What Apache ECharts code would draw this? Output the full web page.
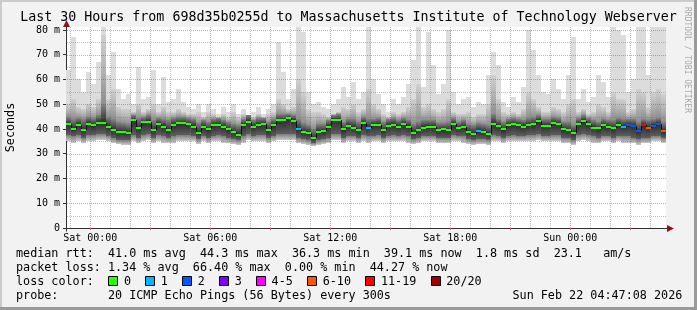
<!DOCTYPE html>
<html><head><meta charset="utf-8">
<script src="https://cdn.jsdelivr.net/npm/echarts@6/dist/echarts.min.js"></script>
<style>html,body{margin:0;padding:0;background:#f2f2f2}#c{width:697px;height:310px}</style>
</head><body><div id="c"></div>
<script>
// ---- time domain (hours relative to Sat 00:00) ----
const startHour = -1.214, endHour = 28.786, stepHours = 0.25;
const xTickValues = [0, 6, 12, 18, 24];
const xTickLabels = ['Sat 00:00', 'Sat 06:00', 'Sat 12:00', 'Sat 18:00', 'Sun 00:00'];
const yTickValues = [0, 10, 20, 30, 40, 50, 60, 70, 80];
const yMax = 81.2;

// ---- smoke: highest ping (light), mid band top, dark band top/bottom, lowest ping (ms) ----
const maxv = [64,77,60,55,63,58,67,82,62,71, 56,52,54,50,65,52,53,64,50,61,
  51,52,56,51,49,48,50,47,50,48, 46,49,47,50,46,48,45,47,49,46,
  48,50,75,63,52,56,82,79,55,50, 51,49,48,50,52,57,53,59,52,55,
  82,60,54,50,47,52,50,53,58,68, 81,57,79,66,54,58,80,55,50,52,
  53,49,51,50,62,71,66,51,49,53, 51,57,80,72,62,55,54,60,56,52,
  62,77,52,56,51,53,62,59,53,81, 80,78,55,60,82,82,62,82,82,82];
const hi2 = [50,52,49,48,50,49,52,78,52,56, 49,48,48,47,50,47,48,50,47,49,
  47,47,48,47,46,46,47,45,47,46, 45,46,45,47,45,46,44,45,46,45,
  46,47,52,50,48,49,60,55,48,47, 47,46,45,46,47,49,48,50,47,48,
  56,50,48,46,45,47,46,47,49,52, 58,49,50,48,47,48,52,47,46,46,
  47,45,46,46,50,62,52,47,46,47, 46,48,55,52,49,47,47,49,48,47,
  50,52,47,48,46,47,50,49,47,55, 52,52,47,48,56,55,49,55,56,54];
const hi3 = [45,44,44.5,44,45,44.5,45.5,50,45,44, 43,42.5,42,45.5,44.5,45,45.5,43.5,44.5,44,
  43.5,44.5,45,45,44.5,44,42.5,43.5,43,44, 44.5,43.5,43,42,41.5,44,45.5,43.5,44.5,44.5,
  43,44,46,46,46,45.5,44,42.5,41.5,40, 42,42,43.5,45.5,46,43,44,44,43,45,
  44,44,44.5,43,44,44.5,43.5,44.5,43.5,42, 43,43.5,43.5,43.5,42.5,42.5,43,44.5,43,43.5,
  42,41.5,42.5,42,41.5,46,44,43,44,44.5, 44,43.5,44.5,45,45.5,44,44,45,44.5,43,
  43,41.5,44.5,45.5,44.5,43.5,43,44,43.5,43.5, 44.5,44,44,44,43,44,43.5,44,44.5,43];
const lo3 = [37.5,37,37.5,36.5,37.5,37.5,38,38,37,36.5, 35.5,35.5,35.5,37.5,36.5,37.5,38,36.5,37.5,37,
  36.5,37,37.5,37.5,37.5,37,36,37,36.5,37, 37.5,37,36.5,36,35.5,37,38,37,37.5,37.5,
  36.5,37,38,38,38,38,36.5,36,35.5,34.5, 35.5,36,36.5,38,38,36.5,37,37,36.5,37.5,
  37,37,37.5,36.5,37,37.5,37,37.5,37,36, 36.5,37,37,37,36.5,36.5,36.5,37.5,37,37,
  36,35.5,36,36,35.5,37.5,37,36.5,37,37.5, 37,37,37.5,37.5,38,37,37,37.5,37.5,36.5,
  36.5,35.5,37.5,38,37.5,37,36.5,37,37,36.5, 37,37,37,36.5,36,36.5,36.5,37,37,36.5];
const minv = [35,34.5,35,34.5,35,35,35.5,35.5,35,34.5, 34,33.5,33.5,35,34.5,35,35.5,34.5,35,34.5,
  34.5,34.5,35,35,35,35,34,35,34.5,35, 35,34.5,34.5,34,33.5,34.5,35.5,35,35,35,
  34.5,35,35.5,35.5,35.5,35.5,34.5,34,33.5,33, 33.5,34,34.5,35.5,35.5,34.5,35,35,34.5,35,
  34.5,35,35,34.5,35,35,35,35,34.5,34, 34.5,35,35,35,34.5,34.5,34.5,35,35,34.5,
  34,33.5,34,34,33.5,35,35,34.5,35,35, 35,35,35,35,35.5,35,35,35,35,34.5,
  34.5,33.5,35,35.5,35,34.5,34.5,35,35,34.5, 35,34.5,34.5,34.5,33.5,34.5,34.5,35,35,34.5];
// ---- median rtt (ms) and loss class per step ----
const median = [42,40,41.8,39.5,42.2,41.5,42.6,42.6,41,39.6, 38.7,38.8,38.3,43.5,40.5,42.7,43,39.5,42.2,41,
  39.5,41.8,42.3,42.5,42,41,38.5,40.8,39.8,41.5, 41.8,40.8,40,38.6,37.7,41.6,43,40.8,41.8,42,
  39.5,41.5,43.7,43.5,44.3,43.3,40,38.6,38.3,36.3, 38.8,39,41,43.7,43.7,39.8,41.3,40.5,39.5,42.5,
  40.5,41.6,41.8,39.5,41.3,41.8,41,42,41,38.5, 39.5,40.6,40.9,40.9,39.5,39.8,39.5,42,40.5,40.8,
  38.8,38,39.2,38.8,37.8,42,41.3,39.8,41.5,42, 41.5,41,41.6,42,43.2,41.2,41.2,42.5,42.2,40,
  39.5,38.2,42,43.2,42,40.5,40.3,41.5,40.8,40.2, 41.8,41,41.5,41.2,39,41.5,40.5,41.2,42,39.1];
const loss = [0,0,0,0,0,0,0,0,0,0, 0,0,0,0,0,0,0,0,0,0, 0,0,0,0,0,0,0,0,0,0, 0,0,0,0,0,0,0,0,0,0,
  0,0,0,0,0,0,1,0,0,0, 0,0,0,0,0,0,0,0,0,0, 1,0,0,0,0,0,0,0,0,0, 0,0,0,0,0,0,0,0,0,0,
  0,0,1,0,0,0,0,0,0,0, 0,0,0,0,0,0,0,0,0,0, 0,0,0,0,0,0,0,0,0,0, 0,1,2,2,2,6,5,2,2,5];
const lossColors = ['#26ff00','#00b8ff','#0059ff','#7e00ff','#ff00ff','#ff5500','#ff0000','#a10000'];
const lossLabels = ['0','1','2','3','4-5','6-10','11-19','20/20'];

// ---- texts ----
const titleText = 'Last 30 Hours from 698d35b0255d to Massachusetts Institute of Technology Webserver';
const row1 = 'median rtt:  41.0 ms avg  44.3 ms max  36.3 ms min  39.1 ms now  1.8 ms sd  23.1   am/s';
const row2 = 'packet loss: 1.34 % avg  66.40 % max  0.00 % min  44.27 % now';
const row3 = 'loss color:';
const row4 = 'probe:       20 ICMP Echo Pings (56 Bytes) every 300s';
const dateText = 'Sun Feb 22 04:47:08 2026';

// ---- build ----
const MONO = '"DejaVu Sans Mono", monospace';
const times = maxv.map((_, i) => startHour + i * stepHours);
const smokeData = maxv.map((m, i) => [times[i], times[i] + stepHours, minv[i], Math.min(m, yMax), hi2[i], lo3[i], hi3[i], median[i]]);
const medData = median.map((m, i) => [times[i], times[i] + stepHours, m, loss[i], i > 0 ? median[i - 1] : m]);
const hourLines = [];
for (let h = Math.ceil(startHour); h <= Math.floor(endHour); h++) hourLines.push([h, ((h % 3) + 3) % 3 === 0 ? 1 : 0]);
const msLines = [];
for (let v = 5; v <= 80; v += 5) msLines.push([v, v % 10 === 0 ? 1 : 0]);
const RED = 'rgba(240,0,0,0.38)', GRAY = 'rgba(120,120,120,0.45)';
const LG = echarts.graphic.LinearGradient;

function bandRect(api, x0, x1, lo, hi, fill) {
  const a = api.coord([x0, hi]), b = api.coord([x1, lo]);
  const X0 = Math.round(a[0]), X1 = Math.round(b[0]);
  const Y0 = Math.round(a[1]), Y1 = Math.round(b[1]);
  return { type: 'rect', shape: { x: X0, y: Y0, width: X1 - X0, height: Math.max(0, Y1 - Y0) }, style: { fill: fill } };
}

const chart = echarts.init(document.getElementById('c'), null, { renderer: 'canvas', width: 697, height: 310 });
chart.setOption({
  animation: false,
  backgroundColor: '#f2f2f2',
  grid: { left: 66, right: 31, top: 27, bottom: 82, show: true, backgroundColor: '#ffffff', borderWidth: 0 },
  xAxis: {
    type: 'value', min: startHour, max: endHour,
    axisLine: { show: true, onZero: false, lineStyle: { color: '#303030', width: 1 } },
    axisTick: { show: true, customValues: [0, 3, 6, 9, 12, 15, 18, 21, 24, 27], length: 2, lineStyle: { color: '#e06060' } },
    axisLabel: {
      customValues: xTickValues, margin: 5, color: '#000', fontFamily: MONO, fontSize: 10,
      formatter: v => { const k = xTickValues.findIndex(t => Math.abs(t - v) < 1e-6); return k >= 0 ? xTickLabels[k] : ''; }
    },
    splitLine: { show: false }
  },
  yAxis: {
    type: 'value', min: 0, max: yMax,
    axisLine: { show: true, onZero: false, lineStyle: { color: '#303030', width: 1 } },
    axisTick: { show: true, customValues: yTickValues, length: 3, lineStyle: { color: '#303030' } },
    axisLabel: { customValues: yTickValues, margin: 6, color: '#000', fontFamily: MONO, fontSize: 10,
      formatter: v => v === 0 ? '0' : Math.round(v) + ' m' },
    splitLine: { show: false }
  },
  series: [
    { type: 'custom', name: 'smoke', coordinateSystem: 'cartesian2d', clip: true, silent: true, z: 2,
      encode: { x: [0, 1], y: [2, 3] }, data: smokeData,
      renderItem: (params, api) => {
        const x0 = api.value(0), x1 = api.value(1);
        const mn = api.value(2), mx = api.value(3), h2 = api.value(4), l3 = api.value(5), h3 = api.value(6), md = api.value(7);
        const f = Math.min(0.95, Math.max(0.05, (h3 - md) / (h3 - l3)));
        return { type: 'group', children: [
          bandRect(api, x0, x1, mn, mx, '#dcdcdc'),
          bandRect(api, x0, x1, h3, h2, new LG(0, 0, 0, 1, [{ offset: 0, color: '#d0d0d0' }, { offset: 0.5, color: '#b4b4b4' }, { offset: 1, color: '#8e8e8e' }])),
          bandRect(api, x0, x1, mn, l3, new LG(0, 0, 0, 1, [{ offset: 0, color: '#7c7c7c' }, { offset: 1, color: '#cacaca' }])),
          bandRect(api, x0, x1, l3, h3, new LG(0, 0, 0, 1, [{ offset: 0, color: '#858585' }, { offset: f, color: '#2c2c2c' }, { offset: 1, color: '#5e5e5e' }]))
        ] };
      } },
    { type: 'custom', name: 'vgrid', coordinateSystem: 'cartesian2d', silent: true, z: 4,
      encode: { x: 0, y: 1 }, data: hourLines,
      renderItem: (params, api) => {
        const h = api.value(0);
        const t = api.coord([h, yMax]), b = api.coord([h, 0]);
        const x = Math.round(t[0]) + 0.5;
        return { type: 'line', shape: { x1: x, y1: Math.round(t[1]), x2: x, y2: Math.round(b[1]) },
          style: { stroke: api.value(1) ? RED : GRAY, lineWidth: 1, lineDash: [1, 1] } };
      } },
    { type: 'custom', name: 'hgrid', coordinateSystem: 'cartesian2d', silent: true, z: 4,
      encode: { x: 1, y: 0 }, data: msLines,
      renderItem: (params, api) => {
        const v = api.value(0);
        const l = api.coord([startHour, v]), r = api.coord([endHour, v]);
        const y = Math.round(l[1]) + 0.5;
        return { type: 'line', shape: { x1: Math.round(l[0]) + 1, y1: y, x2: Math.round(r[0]), y2: y },
          style: { stroke: api.value(1) ? RED : GRAY, lineWidth: 1, lineDash: [1, 1] } };
      } },
    { type: 'custom', name: 'median', coordinateSystem: 'cartesian2d', clip: true, silent: true, z: 6,
      encode: { x: [0, 1], y: 2 }, data: medData,
      renderItem: (params, api) => {
        const x0 = api.value(0), x1 = api.value(1), m = api.value(2), l = api.value(3), pm = api.value(4);
        const a = api.coord([x0, m]), b = api.coord([x1, m]), c = api.coord([x0, pm]);
        const X0 = Math.round(a[0]), X1 = Math.round(b[0]);
        const kids = [];
        if (params.dataIndex > 0) kids.push({ type: 'line', shape: { x1: X0 + 0.5, y1: Math.round(c[1]), x2: X0 + 0.5, y2: Math.round(a[1]) },
          style: { stroke: '#111', lineWidth: 1 } });
        kids.push({ type: 'rect', shape: { x: X0, y: Math.round(a[1]) - 1, width: X1 - X0, height: 2 }, style: { fill: lossColors[l] } });
        return { type: 'group', children: kids };
      } }
  ]
});

// ---- decorations (positions derived from the axes) ----
const o = chart.convertToPixel({ gridIndex: 0 }, [startHour, 0]);
const e = chart.convertToPixel({ gridIndex: 0 }, [endHour, yMax]);
const ox = Math.round(o[0]) + 0.5, oy = Math.round(o[1]) + 0.5, ex = Math.round(e[0]), ey = Math.round(e[1]);
const ARROW = '#8f1515';
const FONT = '11.75px ' + MONO;
const cw = 7.1, lx = 16;
const g = [
  { type: 'rect', shape: { x: 0, y: 0, width: 697, height: 2 }, style: { fill: '#cbcbcb' }, silent: true },
  { type: 'rect', shape: { x: 0, y: 0, width: 2, height: 310 }, style: { fill: '#cbcbcb' }, silent: true },
  { type: 'rect', shape: { x: 0, y: 307, width: 697, height: 3 }, style: { fill: '#9a9a9a' }, silent: true },
  { type: 'rect', shape: { x: 694, y: 0, width: 3, height: 310 }, style: { fill: '#9a9a9a' }, silent: true },
  { type: 'line', shape: { x1: ox - 3, y1: oy, x2: ex + 2, y2: oy }, style: { stroke: '#303030', lineWidth: 1 }, silent: true },
  { type: 'line', shape: { x1: ox, y1: oy + 3, x2: ox, y2: ey - 1 }, style: { stroke: '#303030', lineWidth: 1 }, silent: true },
  { type: 'polygon', shape: { points: [[ex + 1, oy - 3.5], [ex + 8, oy], [ex + 1, oy + 3.5]] }, style: { fill: ARROW }, silent: true },
  { type: 'polygon', shape: { points: [[ox - 3.5, ey], [ox, ey - 7], [ox + 3.5, ey]] }, style: { fill: ARROW }, silent: true },
  { type: 'text', x: 348.5, y: 18, style: { text: titleText, font: '13.3px ' + MONO, fill: '#000', align: 'center', verticalAlign: 'middle' }, silent: true },
  { type: 'text', x: 10.5, y: 127.5, rotation: Math.PI / 2, style: { text: 'Seconds', font: FONT, fill: '#000', align: 'center', verticalAlign: 'middle' }, silent: true },
  { type: 'text', x: 687, y: 60, rotation: -Math.PI / 2, style: { text: 'RRDTOOL / TOBI OETIKER', font: '8px ' + MONO, fill: '#aaaaaa', align: 'center', verticalAlign: 'middle' }, silent: true },
  { type: 'text', x: lx, y: 253.8, style: { text: row1, font: FONT, fill: '#000', verticalAlign: 'middle' }, silent: true },
  { type: 'text', x: lx, y: 267.8, style: { text: row2, font: FONT, fill: '#000', verticalAlign: 'middle' }, silent: true },
  { type: 'text', x: lx, y: 281.6, style: { text: row3, font: FONT, fill: '#000', verticalAlign: 'middle' }, silent: true },
  { type: 'text', x: lx, y: 295.6, style: { text: row4, font: FONT, fill: '#000', verticalAlign: 'middle' }, silent: true },
  { type: 'text', x: 512.5, y: 295.6, style: { text: dateText, font: FONT, fill: '#000', verticalAlign: 'middle' }, silent: true }
];
let col = 13;
lossLabels.forEach((lab, k) => {
  const bx = Math.round(lx + col * cw) + 0.5;
  g.push({ type: 'rect', shape: { x: bx, y: 276.5, width: 9, height: 9 }, style: { fill: lossColors[k], stroke: '#000', lineWidth: 1 }, silent: true });
  const tc = col + 2.2;
  g.push({ type: 'text', x: lx + tc * cw, y: 281.6, style: { text: lab, font: FONT, fill: '#000', verticalAlign: 'middle' }, silent: true });
  col = tc + lab.length + 2;
});
chart.setOption({ graphic: g });
</script>
</body></html>
